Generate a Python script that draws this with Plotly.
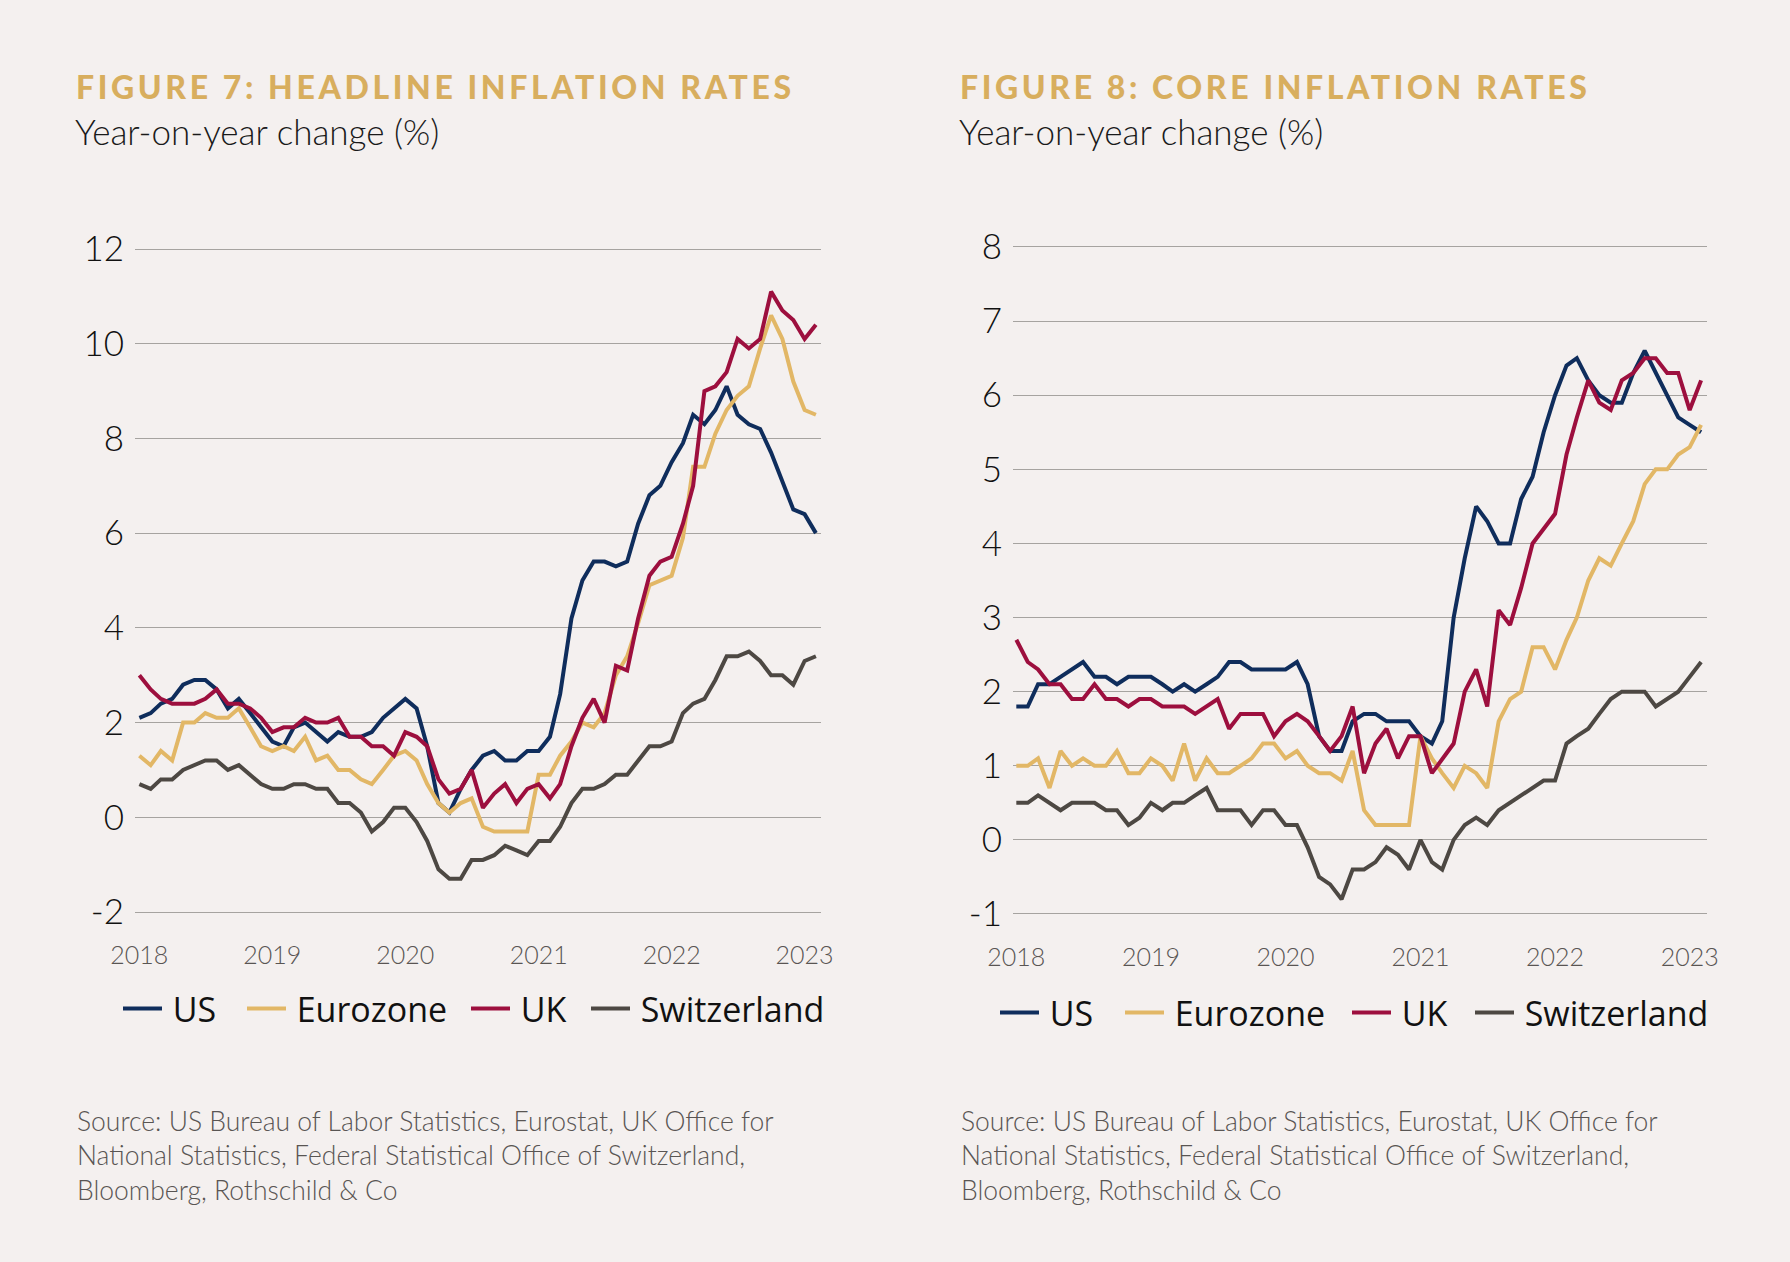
import pandas as pd
import plotly.graph_objects as go

W, H = 1790, 1262

months = pd.date_range("2018-01-01", periods=62, freq="MS")

# Figure 7: headline inflation (YoY %)
head_us = [2.1, 2.2, 2.4, 2.5, 2.8, 2.9, 2.9, 2.7, 2.3, 2.5, 2.2, 1.9,
           1.6, 1.5, 1.9, 2.0, 1.8, 1.6, 1.8, 1.7, 1.7, 1.8, 2.1, 2.3,
           2.5, 2.3, 1.5, 0.3, 0.1, 0.6, 1.0, 1.3, 1.4, 1.2, 1.2, 1.4,
           1.4, 1.7, 2.6, 4.2, 5.0, 5.4, 5.4, 5.3, 5.4, 6.2, 6.8, 7.0,
           7.5, 7.9, 8.5, 8.3, 8.6, 9.1, 8.5, 8.3, 8.2, 7.7, 7.1, 6.5,
           6.4, 6.0]
head_ez = [1.3, 1.1, 1.4, 1.2, 2.0, 2.0, 2.2, 2.1, 2.1, 2.3, 1.9, 1.5,
           1.4, 1.5, 1.4, 1.7, 1.2, 1.3, 1.0, 1.0, 0.8, 0.7, 1.0, 1.3,
           1.4, 1.2, 0.7, 0.3, 0.1, 0.3, 0.4, -0.2, -0.3, -0.3, -0.3, -0.3,
           0.9, 0.9, 1.3, 1.6, 2.0, 1.9, 2.2, 3.0, 3.4, 4.1, 4.9, 5.0,
           5.1, 5.9, 7.4, 7.4, 8.1, 8.6, 8.9, 9.1, 9.9, 10.6, 10.1, 9.2,
           8.6, 8.5]
head_uk = [3.0, 2.7, 2.5, 2.4, 2.4, 2.4, 2.5, 2.7, 2.4, 2.4, 2.3, 2.1,
           1.8, 1.9, 1.9, 2.1, 2.0, 2.0, 2.1, 1.7, 1.7, 1.5, 1.5, 1.3,
           1.8, 1.7, 1.5, 0.8, 0.5, 0.6, 1.0, 0.2, 0.5, 0.7, 0.3, 0.6,
           0.7, 0.4, 0.7, 1.5, 2.1, 2.5, 2.0, 3.2, 3.1, 4.2, 5.1, 5.4,
           5.5, 6.2, 7.0, 9.0, 9.1, 9.4, 10.1, 9.9, 10.1, 11.1, 10.7, 10.5,
           10.1, 10.4]
head_ch = [0.7, 0.6, 0.8, 0.8, 1.0, 1.1, 1.2, 1.2, 1.0, 1.1, 0.9, 0.7,
           0.6, 0.6, 0.7, 0.7, 0.6, 0.6, 0.3, 0.3, 0.1, -0.3, -0.1, 0.2,
           0.2, -0.1, -0.5, -1.1, -1.3, -1.3, -0.9, -0.9, -0.8, -0.6, -0.7, -0.8,
           -0.5, -0.5, -0.2, 0.3, 0.6, 0.6, 0.7, 0.9, 0.9, 1.2, 1.5, 1.5,
           1.6, 2.2, 2.4, 2.5, 2.9, 3.4, 3.4, 3.5, 3.3, 3.0, 3.0, 2.8,
           3.3, 3.4]

# Figure 8: core inflation (YoY %)
core_us = [1.8, 1.8, 2.1, 2.1, 2.2, 2.3, 2.4, 2.2, 2.2, 2.1, 2.2, 2.2,
           2.2, 2.1, 2.0, 2.1, 2.0, 2.1, 2.2, 2.4, 2.4, 2.3, 2.3, 2.3,
           2.3, 2.4, 2.1, 1.4, 1.2, 1.2, 1.6, 1.7, 1.7, 1.6, 1.6, 1.6,
           1.4, 1.3, 1.6, 3.0, 3.8, 4.5, 4.3, 4.0, 4.0, 4.6, 4.9, 5.5,
           6.0, 6.4, 6.5, 6.2, 6.0, 5.9, 5.9, 6.3, 6.6, 6.3, 6.0, 5.7,
           5.6, 5.5]
core_ez = [1.0, 1.0, 1.1, 0.7, 1.2, 1.0, 1.1, 1.0, 1.0, 1.2, 0.9, 0.9,
           1.1, 1.0, 0.8, 1.3, 0.8, 1.1, 0.9, 0.9, 1.0, 1.1, 1.3, 1.3,
           1.1, 1.2, 1.0, 0.9, 0.9, 0.8, 1.2, 0.4, 0.2, 0.2, 0.2, 0.2,
           1.4, 1.1, 0.9, 0.7, 1.0, 0.9, 0.7, 1.6, 1.9, 2.0, 2.6, 2.6,
           2.3, 2.7, 3.0, 3.5, 3.8, 3.7, 4.0, 4.3, 4.8, 5.0, 5.0, 5.2,
           5.3, 5.6]
core_uk = [2.7, 2.4, 2.3, 2.1, 2.1, 1.9, 1.9, 2.1, 1.9, 1.9, 1.8, 1.9,
           1.9, 1.8, 1.8, 1.8, 1.7, 1.8, 1.9, 1.5, 1.7, 1.7, 1.7, 1.4,
           1.6, 1.7, 1.6, 1.4, 1.2, 1.4, 1.8, 0.9, 1.3, 1.5, 1.1, 1.4,
           1.4, 0.9, 1.1, 1.3, 2.0, 2.3, 1.8, 3.1, 2.9, 3.4, 4.0, 4.2,
           4.4, 5.2, 5.7, 6.2, 5.9, 5.8, 6.2, 6.3, 6.5, 6.5, 6.3, 6.3,
           5.8, 6.2]
core_ch = [0.5, 0.5, 0.6, 0.5, 0.4, 0.5, 0.5, 0.5, 0.4, 0.4, 0.2, 0.3,
           0.5, 0.4, 0.5, 0.5, 0.6, 0.7, 0.4, 0.4, 0.4, 0.2, 0.4, 0.4,
           0.2, 0.2, -0.1, -0.5, -0.6, -0.8, -0.4, -0.4, -0.3, -0.1, -0.2, -0.4,
           0.0, -0.3, -0.4, 0.0, 0.2, 0.3, 0.2, 0.4, 0.5, 0.6, 0.7, 0.8,
           0.8, 1.3, 1.4, 1.5, 1.7, 1.9, 2.0, 2.0, 2.0, 1.8, 1.9, 2.0,
           2.2, 2.4]

series_names = ["US", "Eurozone", "UK", "Switzerland"]
series_colors = ["#0f2d5c", "#e2b766", "#9d0f3e", "#4d4843"]

head_ticks = [-2, 0, 2, 4, 6, 8, 10, 12]
head_tick_text = ["-2", "0", "2", "4", "6", "8", "10", "12"]
core_ticks = [-1, 0, 1, 2, 3, 4, 5, 6, 7, 8]
core_tick_text = ["-1", "0", "1", "2", "3", "4", "5", "6", "7", "8"]

titles = ["FIGURE 7: HEADLINE INFLATION RATES", "FIGURE 8: CORE INFLATION RATES"]
subtitle = "Year-on-year change (%)"
source_lines = ["Source: US Bureau of Labor Statistics, Eurostat, UK Office for",
                "National Statistics, Federal Statistical Office of Switzerland,",
                "Bloomberg, Rothschild &amp; Co"]

BG = "#f4f0ef"
GOLD = "#d8ae5e"
GRID = "#a6a3a0"


def px(x):
    return x / W


def py(y):
    return 1 - y / H


fig = go.Figure()

head_data = [head_us, head_ez, head_uk, head_ch]
core_data = [core_us, core_ez, core_uk, core_ch]

# one legend per entry so every entry can sit exactly where the reference has it
left_legend_x = [123, 247, 471, 591]
right_legend_x = [1000, 1125, 1352, 1475]

legend_layouts = {}
k = 0
for data, xa, ya, lxs, ly in [(head_data, "x", "y", left_legend_x, 1009),
                              (core_data, "x2", "y2", right_legend_x, 1013)]:
    for name, col, vals, lx in zip(series_names, series_colors, data, lxs):
        k += 1
        lname = "legend" if k == 1 else f"legend{k}"
        fig.add_trace(go.Scatter(x=months, y=vals, mode="lines",
                                 name="\u2009" + name,
                                 line=dict(color=col, width=4),
                                 xaxis=xa, yaxis=ya, legend=lname))
        legend_layouts[lname] = dict(
            orientation="h", x=px(lx - 5), y=py(ly), xanchor="left", yanchor="middle",
            font=dict(family="Open Sans", size=34, color="#111111"),
            bgcolor="rgba(0,0,0,0)", borderwidth=0, itemwidth=39)

tickfont_y = dict(family="Lato", size=35, color="#111111", weight=300)
tickfont_x = dict(family="Lato", size=25, color="#595553", weight=300)

common_x = dict(type="date", dtick="M12", tickformat="%Y", showgrid=False,
                zeroline=False, showline=False, ticks="", tickfont=tickfont_x,
                ticklabelstandoff=24, automargin=False)
common_y = dict(showgrid=True, gridcolor=GRID, gridwidth=1.3, zeroline=False,
                showline=False, ticks="", tickfont=tickfont_y,
                ticklabelstandoff=10, automargin=False)

pad_h = 0.05
pad_c = 0.03
upu_h = (912 - 249) / 14.0
upu_c = (914 - 247) / 9.0

fig.update_layout(
    width=W, height=H,
    margin=dict(l=0, r=0, t=0, b=0, pad=0, autoexpand=False),
    paper_bgcolor=BG, plot_bgcolor=BG,
    xaxis=dict(domain=[px(135), px(821)], range=["2017-12-20", "2023-02-15"],
               anchor="y", **common_x),
    yaxis=dict(domain=[py(912 + pad_h * upu_h), py(249 - pad_h * upu_h)],
               range=[-2 - pad_h, 12 + pad_h], tickvals=head_ticks,
               ticktext=head_tick_text, anchor="x", **common_y),
    xaxis2=dict(domain=[px(1013), px(1707)], range=["2017-12-23", "2023-02-17"],
                anchor="y2", **common_x),
    yaxis2=dict(domain=[py(914 + pad_c * upu_c), py(247 - pad_c * upu_c)],
                range=[-1 - pad_c, 8 + pad_c], tickvals=core_ticks,
                ticktext=core_tick_text, anchor="x2", **common_y),
    showlegend=True,
    **legend_layouts,
)

lefts = [74, 958]
for i, lx in enumerate(lefts):
    fig.add_annotation(x=px(lx), y=py(86), xref="paper", yref="paper",
                       text='<span style="letter-spacing:3.6px">' + titles[i] + "</span>",
                       showarrow=False, xanchor="left", yanchor="middle",
                       font=dict(family="Lato", size=32, color=GOLD, weight=900))
    fig.add_annotation(x=px(lx - 1), y=py(131), xref="paper", yref="paper",
                       text=subtitle, showarrow=False,
                       xanchor="left", yanchor="middle",
                       font=dict(family="Lato", size=35, color="#1a1a1a", weight=300))
    fig.add_annotation(x=px(lx + 1), y=py(1155), xref="paper", yref="paper",
                       text="<br>".join(source_lines), showarrow=False,
                       xanchor="left", yanchor="middle", align="left",
                       font=dict(family="Lato", size=26.5, color="#595553", weight=300))

post = ("document.documentElement.style.margin='0';"
        "document.body.style.margin='0';"
        "document.body.style.overflow='hidden';"
        "document.documentElement.style.background='%s';"
        "document.body.style.background='%s';") % (BG, BG)

fig.write_html("out.html", post_script=post, config={"displayModeBar": False})
